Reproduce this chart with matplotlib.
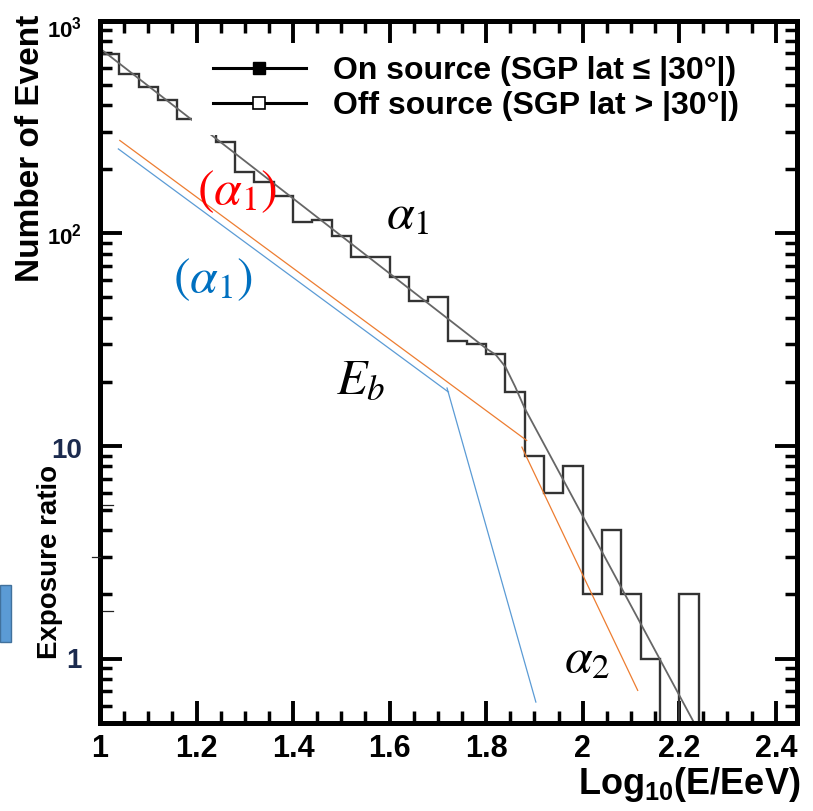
import numpy as np
import matplotlib
matplotlib.use('Agg')
import matplotlib.pyplot as plt
from matplotlib.lines import Line2D
from matplotlib.patches import Rectangle
from matplotlib.ticker import MultipleLocator, LogLocator, NullFormatter, FixedLocator
from matplotlib.transforms import blended_transform_factory

plt.rcParams['font.family'] = ['Liberation Sans', 'DejaVu Sans']
plt.rcParams['mathtext.fontset'] = 'custom'
plt.rcParams['mathtext.rm'] = 'Liberation Sans:bold'
plt.rcParams['mathtext.it'] = 'Liberation Sans:italic:bold'
plt.rcParams['mathtext.bf'] = 'Liberation Sans:bold'
plt.rcParams['mathtext.default'] = 'it'

# ---------------- data ----------------
bin_start = 1.00
bin_width = 0.04
counts = [697, 561, 486, 421, 345, 300, 268, 194, 174, 150, 113, 115, 97, 77, 77,
          62, 48, 50, 31, 30, 27, 18, 9, 6, 8, 2, 4, 2, 1, 0, 2]

fit_x = [1.00, 1.80, 1.82, 1.84, 1.86, 1.88, 2.24]
fit_y = [739, 28.7, 26.8, 23.5, 19.0, 15.0, 0.456]

orange1_x = [1.041, 1.884]
orange1_y = [273, 10.6]
orange2_x = [1.874, 2.114]
orange2_y = [9.86, 0.708]
blue1_x = [1.038, 1.722]
blue1_y = [249, 17.9]
blue2_x = [1.719, 1.903]
blue2_y = [18.7, 0.624]

xticks = [1.0, 1.2, 1.4, 1.6, 1.8, 2.0, 2.2, 2.4]
xticklabels = ['1', '1.2', '1.4', '1.6', '1.8', '2', '2.2', '2.4']
ytick_vals = [1000, 100, 10, 1]
ytick_labels = ['10$^{\\mathrm{3}}$', '10$^{\\mathrm{2}}$', '10', '1']

legend_labels = ['On source (SGP lat \u2264 |30\u00b0|)', 'Off source (SGP lat > |30\u00b0|)']

# ---------------- figure ----------------
fig = plt.figure(figsize=(8.13, 8.11), dpi=100)
ax = fig.add_axes([0.1230, 0.1091, 0.8579, 0.8656])
ax.set_yscale('log')
ax.set_xlim(1.0, 2.445)
ax.set_ylim(0.5, 1000)

edges = bin_start + bin_width * np.arange(len(counts) + 1)
vals = np.where(np.array(counts) > 0, np.array(counts, dtype=float), 1e-2)
ax.stairs(vals, edges, baseline=1e-2, color='#333333', lw=1.7, zorder=2)
ax.plot(fit_x, fit_y, color='#666666', lw=1.3, zorder=2.1)

ax.plot(orange1_x, orange1_y, color='#ED7D31', lw=0.9, zorder=2.2)
ax.plot(orange2_x, orange2_y, color='#ED7D31', lw=0.9, zorder=2.2)
ax.plot(blue1_x, blue1_y, color='#5B9BD5', lw=0.9, zorder=2.2)
ax.plot(blue2_x, blue2_y, color='#5B9BD5', lw=0.9, zorder=2.2)

# annotations
ann = dict(math_fontfamily='stix', ha='center', va='center', fontsize=36)
ax.text(1.284, 156, r'$(\alpha_1)$', color='#FF0000', **ann)
ax.text(1.638, 121.8, r'$\alpha_1$', color='black', **ann)
ax.text(1.234, 60.3, r'$(\alpha_1)$', color='#0070C0', **ann)
ax.text(1.539, 20.4, r'$E_b$', color='black', **ann)
ax.text(2.009, 0.985, r'$\alpha_2$', color='black', **ann)

# axes styling
for s in ax.spines.values():
    s.set_linewidth(3.6)
ax.xaxis.set_major_locator(FixedLocator(xticks))
ax.set_xticklabels(xticklabels, fontsize=22, fontweight='bold')
ax.xaxis.set_minor_locator(MultipleLocator(0.05))
ax.yaxis.set_major_locator(LogLocator(base=10, numticks=10))
ax.yaxis.set_minor_locator(LogLocator(base=10, subs=np.arange(2, 10), numticks=20))
ax.yaxis.set_minor_formatter(NullFormatter())
ax.set_yticklabels([])
ax.tick_params(which='major', direction='in', length=16, width=2.8, top=True, right=True, pad=8)
ax.tick_params(which='minor', direction='in', length=8.5, width=2.5, top=True, right=True)
ax.tick_params(axis='y', which='both', labelleft=False)

trans = blended_transform_factory(ax.transAxes, ax.transData)
ylab_pos = [836, 88.0, 8.77, 0.903]
ylab_col = ['black', 'black', '#1b2a4e', '#1b2a4e']
ylab_fs = [16, 16, 20, 20]
for v, lab, c, fs, yp in zip(ytick_vals, ytick_labels, ylab_col, ylab_fs, ylab_pos):
    ax.text(-0.0258, yp, lab, transform=trans, ha='right', va='baseline',
            fontsize=fs, fontweight='bold', color=c)

# white box behind legend (hides the curves there)
ax.add_patch(Rectangle((0.132, 0.837), 0.814, 0.125, transform=ax.transAxes,
                       facecolor='white', edgecolor='none', zorder=3))

# legend
h_on = Line2D([], [], color='black', lw=2.2, marker='s', markersize=9,
              markerfacecolor='black', markeredgecolor='black')
h_off = Line2D([], [], color='black', lw=2.2, marker='s', markersize=9,
               markerfacecolor='white', markeredgecolor='black', markeredgewidth=1.2)
leg = ax.legend([h_on, h_off], legend_labels, loc='upper left',
                bbox_to_anchor=(0.162, 0.9494), borderaxespad=0,
                frameon=False, prop={'size': 23, 'weight': 'bold'},
                handlelength=2.9, handletextpad=0.85, labelspacing=0.17,
                borderpad=0, numpoints=1)
leg.set_zorder(6)

# axis labels
fig.text(0.985, 1 - 785/811, r'Log$_{\mathrm{10}}$(E/EeV)', ha='right', va='center',
         fontsize=26, fontweight='bold')
fig.text(31/813, 1 - 148/811, 'Number of Event', rotation=90, ha='center', va='center',
         fontsize=24, fontweight='bold')
fig.text(50/813, 1 - 562/811, 'Exposure ratio', rotation=90, ha='center', va='center',
         fontsize=20, fontweight='bold')

# blue box at left edge
fig.patches.append(Rectangle((0, 1 - 641.7/811), 10.7/813, 56.7/811,
                             transform=fig.transFigure, facecolor='#5B9BD5',
                             edgecolor='#41719C', lw=1))

# small stray tick marks left of the axis
for (x0, x1, yy) in [(103, 113, 505), (92, 100, 557), (103, 113, 611)]:
    fig.lines.append(Line2D([x0/813, x1/813], [1 - yy/811, 1 - yy/811],
                            transform=fig.transFigure, color='#222222', lw=0.9))

fig.savefig('out.png', dpi=100)
